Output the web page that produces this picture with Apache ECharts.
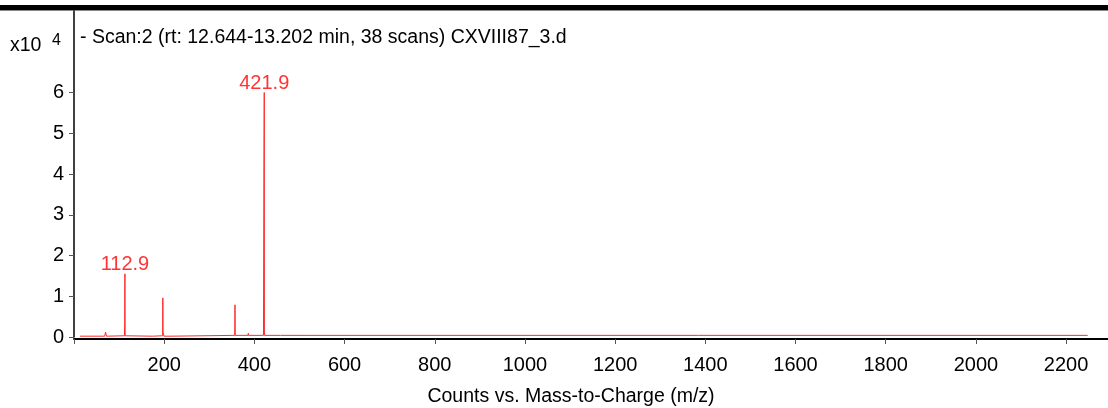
<!DOCTYPE html>
<html>
<head>
<meta charset="utf-8">
<script src="https://cdn.jsdelivr.net/npm/echarts@6/dist/echarts.min.js"></script>
<style>
html,body{margin:0;padding:0;background:#fff;}
#main{width:1108px;height:408px;}
</style>
</head>
<body>
<div id="main"></div>
<script>
// profile points of the spectrum (m/z and counts in x10^4)
var mzValues = [13, 68, 70, 72, 111.9, 112.4, 112.9, 113.4, 174, 175, 176, 196.5, 197, 197.5, 198.5, 199.5, 215, 215.5,
	356.5, 357, 357.5, 386, 386.5, 387, 420.2, 421.2, 421.9, 422.3, 458, 458.5, 459, 521, 2248];
var countValues = [0.02, 0.02, 0.12, 0.02, 0.03, 0.35, 1.55, 0.03, 0.02, 0.06, 0.02, 0.03, 0.96, 0.12, 0.12, 0.02, 0.02, 0.04,
	0.04, 0.79, 0.04, 0.04, 0.09, 0.04, 0.04, 4.1, 6.0, 0.04, 0.04, 0.07, 0.04, 0.04, 0.04];
// labelled peaks
var peakMz = [112.9, 421.9];
var peakCounts = [1.55, 6.0];
var xTicks = [0, 200, 400, 600, 800, 1000, 1200, 1400, 1600, 1800, 2000, 2200];
var xLabels = [200, 400, 600, 800, 1000, 1200, 1400, 1600, 1800, 2000, 2200];
var yTicks = [0, 1, 2, 3, 4, 5, 6];
var titleText = "- Scan:2 (rt: 12.644-13.202 min, 38 scans) CXVIII87_3.d";
var xName = "Counts vs. Mass-to-Charge (m/z)";

var fontFam = '"Liberation Sans", Arial, sans-serif';

var lineData = [];
for (var i = 0; i < mzValues.length; i++) {
	lineData.push([mzValues[i], countValues[i]]);
}
var peakData = [];
for (var j = 0; j < peakMz.length; j++) {
	peakData.push([peakMz[j], peakCounts[j]]);
}

var chart = echarts.init(document.getElementById('main'), null, { renderer: 'canvas' });
var option = {
	animation: false,
	backgroundColor: '#fff',
	grid: { left: 74, right: 0, top: 11, bottom: 71, containLabel: false, outerBoundsMode: 'none' },
	graphic: [
		{ type: 'rect', shape: { x: 0, y: 5, width: 1108, height: 5 }, style: { fill: '#000' } },
		{ type: 'rect', shape: { x: 0, y: 10, width: 1108, height: 1 }, style: { fill: '#888' } },
		{ type: 'text', left: 80, top: 28, style: { text: titleText, fontSize: 19.5, fontFamily: fontFam, fill: '#000' } },
		{ type: 'text', left: 10, top: 36, style: { text: 'x10', fontSize: 19.5, fontFamily: fontFam, fill: '#000' } },
		{ type: 'text', left: 52, top: 33, style: { text: '4', fontSize: 16, fontFamily: fontFam, fill: '#000' } }
	],
	xAxis: {
		type: 'value',
		min: 0,
		max: 2293,
		offset: 2,
		name: xName,
		nameLocation: 'middle',
		nameGap: 48,
		nameTextStyle: { fontSize: 19.5, fontFamily: fontFam, color: '#000', padding: [0, 40, 0, 0] },
		axisLine: { show: true, onZero: false, lineStyle: { color: '#000', width: 2 } },
		axisTick: { show: true, inside: false, length: 5, customValues: xTicks, lineStyle: { color: '#555' } },
		axisLabel: {
			show: true, margin: 16, customValues: xLabels, fontSize: 20, fontFamily: fontFam, color: '#000',
			formatter: function (v) { return String(v); }
		},
		splitLine: { show: false }
	},
	yAxis: {
		type: 'value',
		min: 0,
		max: 8,
		axisLine: { show: true, lineStyle: { color: '#000', width: 1.5 } },
		axisTick: { show: true, length: 5, customValues: yTicks, lineStyle: { color: '#555' } },
		axisLabel: {
			show: true, margin: 10, customValues: yTicks, fontSize: 20, fontFamily: fontFam, color: '#000',
			padding: [4, 0, 0, 0]
		},
		splitLine: { show: false }
	},
	series: [{
		type: 'line',
		data: lineData,
		symbol: 'none',
		lineStyle: { color: '#ff2a2a', width: 1 },
		z: 3
	}, {
		type: 'scatter',
		data: peakData,
		symbolSize: 0.1,
		itemStyle: { color: 'rgba(0,0,0,0)' },
		label: {
			show: true,
			position: 'top',
			distance: 0,
			offset: [0, 1],
			formatter: function (p) { return p.value[0].toFixed(1); },
			color: '#ff0000',
			fontSize: 20,
			fontFamily: fontFam
		},
		z: 4
	}]
};
chart.setOption(option);
</script>
</body>
</html>
